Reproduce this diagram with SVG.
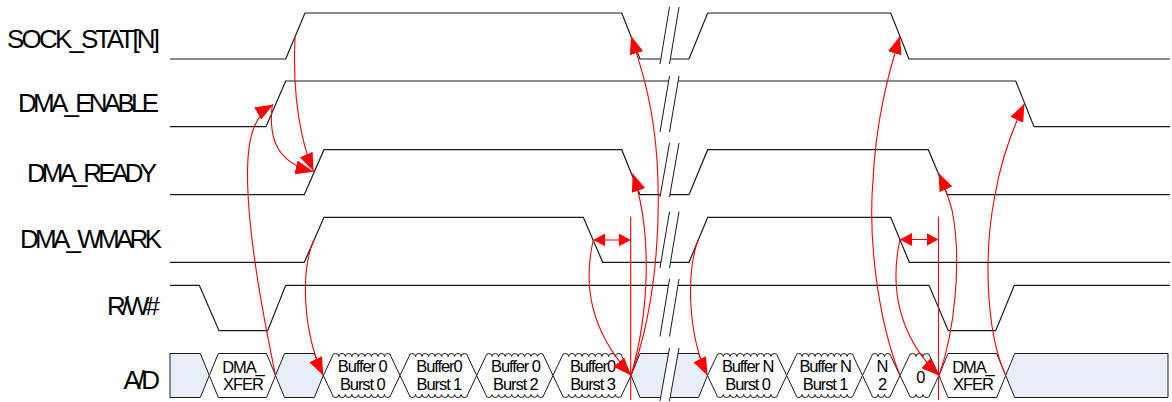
<svg xmlns="http://www.w3.org/2000/svg" width="1172" height="402" viewBox="0 0 1172 402">
<style>
.sig{fill:none;stroke:#1a1a1a;stroke-width:1.2}
.bf{fill:#fff;stroke:none}
.bl{stroke:#1a1a1a;stroke-width:1;fill:none}
.lbl{font-family:"Liberation Sans",Arial,sans-serif;font-size:26px;fill:#000}
.bus{stroke:#1a1a1a;stroke-width:1}
.sh{fill:#E8EEF7}
.pl{fill:#fff}
.bt{font-family:"Liberation Sans",Arial,sans-serif;font-size:16.5px;letter-spacing:-1.1px;text-anchor:middle;fill:#000}
.red{fill:none;stroke:#FF0000;stroke-width:1.1}
</style>
<defs>
<marker id="ah" markerUnits="userSpaceOnUse" markerWidth="19" markerHeight="14" refX="18" refY="7" orient="auto"><path d="M0,0 L18,7 L0,14 Z" fill="#FF0000"/></marker>
<marker id="as" markerUnits="userSpaceOnUse" markerWidth="13" markerHeight="13" refX="12" refY="6.5" orient="auto-start-reverse"><path d="M0,0 L12,6.5 L0,13 Z" fill="#FF0000"/></marker>
</defs>
<rect width="1172" height="402" fill="#fff"/>

<g id="sock_stat">
<text class="lbl" x="7" y="48" textLength="153" lengthAdjust="spacing">SOCK_STAT[N]</text>
<path class="sig" d="M170,59 H285.7 L305,13 H621.7 L640,59 H689 L707.7,13 H890.7 L909,59 H1170"/>
</g>
<g id="dma_enable">
<text class="lbl" x="18" y="112" textLength="141" lengthAdjust="spacing">DMA_ENABLE</text>
<path class="sig" d="M170,126.7 H266 L285.7,81 H1015.7 L1034,126.7 H1170"/>
</g>
<g id="dma_ready">
<text class="lbl" x="27" y="182" textLength="130" lengthAdjust="spacing">DMA_READY</text>
<path class="sig" d="M170,194.7 H304.3 L324,149.7 H621.7 L640,194.7 H689 L707.7,149.7 H928.3 L947.3,194.7 H1170"/>
</g>
<g id="dma_wmark">
<text class="lbl" x="20" y="247.5" textLength="142" lengthAdjust="spacing">DMA_WMARK</text>
<path class="sig" d="M170,262.3 H304.3 L324,217.3 H583.3 L602.7,262.3 H689 L707.7,217.3 H890.7 L909.3,262.3 H1170"/>
</g>
<g id="rw">
<text class="lbl" x="107" y="315" textLength="53" lengthAdjust="spacing">R/W#</text>
<path class="sig" d="M170,285.3 H199.3 L219,330.7 H267.7 L285.7,285.3 H929 L948.3,330.7 H995.7 L1014.3,285.3 H1170"/>
</g>
<g id="ad">
<text class="lbl" x="123.5" y="388.5" textLength="36.5" lengthAdjust="spacing">A/D</text>
<g class="bus">
<polygon class="sh" points="170,353.5 200.3,353.5 209.3,375.5 200.3,397.5 170,397.5"/>
<polygon class="pl" points="209.3,375.5 218.3,353.5 266.5,353.5 275.5,375.5 266.5,397.5 218.3,397.5"/>
<polygon class="sh" points="275.5,375.5 284.5,353.5 314.3,353.5 323.3,375.5 314.3,397.5 284.5,397.5"/>
<path class="pl" d="M323.3,375.5 L332.3,356.5 a3.26,3 0 0 1 6.522,0 a3.26,3 0 0 1 6.522,0 a3.26,3 0 0 1 6.522,0 a3.26,3 0 0 1 6.522,0 a3.26,3 0 0 1 6.522,0 a3.26,3 0 0 1 6.522,0 a3.26,3 0 0 1 6.522,0 a3.26,3 0 0 1 6.522,0 a3.26,3 0 0 1 6.522,0 L400,375.5 L391,394.5 a3.26,3 0 0 1 -6.522,0 a3.26,3 0 0 1 -6.522,0 a3.26,3 0 0 1 -6.522,0 a3.26,3 0 0 1 -6.522,0 a3.26,3 0 0 1 -6.522,0 a3.26,3 0 0 1 -6.522,0 a3.26,3 0 0 1 -6.522,0 a3.26,3 0 0 1 -6.522,0 a3.26,3 0 0 1 -6.522,0 Z"/>
<path class="pl" d="M400,375.5 L409,356.5 a3.26,3 0 0 1 6.522,0 a3.26,3 0 0 1 6.522,0 a3.26,3 0 0 1 6.522,0 a3.26,3 0 0 1 6.522,0 a3.26,3 0 0 1 6.522,0 a3.26,3 0 0 1 6.522,0 a3.26,3 0 0 1 6.522,0 a3.26,3 0 0 1 6.522,0 a3.26,3 0 0 1 6.522,0 L476.7,375.5 L467.7,394.5 a3.26,3 0 0 1 -6.522,0 a3.26,3 0 0 1 -6.522,0 a3.26,3 0 0 1 -6.522,0 a3.26,3 0 0 1 -6.522,0 a3.26,3 0 0 1 -6.522,0 a3.26,3 0 0 1 -6.522,0 a3.26,3 0 0 1 -6.522,0 a3.26,3 0 0 1 -6.522,0 a3.26,3 0 0 1 -6.522,0 Z"/>
<path class="pl" d="M476.7,375.5 L485.7,356.5 a3.24,3 0 0 1 6.478,0 a3.24,3 0 0 1 6.478,0 a3.24,3 0 0 1 6.478,0 a3.24,3 0 0 1 6.478,0 a3.24,3 0 0 1 6.478,0 a3.24,3 0 0 1 6.478,0 a3.24,3 0 0 1 6.478,0 a3.24,3 0 0 1 6.478,0 a3.24,3 0 0 1 6.478,0 L553,375.5 L544,394.5 a3.24,3 0 0 1 -6.478,0 a3.24,3 0 0 1 -6.478,0 a3.24,3 0 0 1 -6.478,0 a3.24,3 0 0 1 -6.478,0 a3.24,3 0 0 1 -6.478,0 a3.24,3 0 0 1 -6.478,0 a3.24,3 0 0 1 -6.478,0 a3.24,3 0 0 1 -6.478,0 a3.24,3 0 0 1 -6.478,0 Z"/>
<path class="pl" d="M553,375.5 L562,356.5 a3.33,3 0 0 1 6.667,0 a3.33,3 0 0 1 6.667,0 a3.33,3 0 0 1 6.667,0 a3.33,3 0 0 1 6.667,0 a3.33,3 0 0 1 6.667,0 a3.33,3 0 0 1 6.667,0 a3.33,3 0 0 1 6.667,0 a3.33,3 0 0 1 6.667,0 a3.33,3 0 0 1 6.667,0 L631,375.5 L622,394.5 a3.33,3 0 0 1 -6.667,0 a3.33,3 0 0 1 -6.667,0 a3.33,3 0 0 1 -6.667,0 a3.33,3 0 0 1 -6.667,0 a3.33,3 0 0 1 -6.667,0 a3.33,3 0 0 1 -6.667,0 a3.33,3 0 0 1 -6.667,0 a3.33,3 0 0 1 -6.667,0 a3.33,3 0 0 1 -6.667,0 Z"/>
<polygon class="sh" points="631,375.5 640,353.5 698.5,353.5 707.5,375.5 698.5,397.5 640,397.5"/>
<path class="pl" d="M707.5,375.5 L716.5,356.5 a3.4,3 0 0 1 6.8,0 a3.4,3 0 0 1 6.8,0 a3.4,3 0 0 1 6.8,0 a3.4,3 0 0 1 6.8,0 a3.4,3 0 0 1 6.8,0 a3.4,3 0 0 1 6.8,0 a3.4,3 0 0 1 6.8,0 a3.4,3 0 0 1 6.8,0 a3.4,3 0 0 1 6.8,0 L786.7,375.5 L777.7,394.5 a3.4,3 0 0 1 -6.8,0 a3.4,3 0 0 1 -6.8,0 a3.4,3 0 0 1 -6.8,0 a3.4,3 0 0 1 -6.8,0 a3.4,3 0 0 1 -6.8,0 a3.4,3 0 0 1 -6.8,0 a3.4,3 0 0 1 -6.8,0 a3.4,3 0 0 1 -6.8,0 a3.4,3 0 0 1 -6.8,0 Z"/>
<path class="pl" d="M786.7,375.5 L795.7,356.5 a3.21,3 0 0 1 6.422,0 a3.21,3 0 0 1 6.422,0 a3.21,3 0 0 1 6.422,0 a3.21,3 0 0 1 6.422,0 a3.21,3 0 0 1 6.422,0 a3.21,3 0 0 1 6.422,0 a3.21,3 0 0 1 6.422,0 a3.21,3 0 0 1 6.422,0 a3.21,3 0 0 1 6.422,0 L862.5,375.5 L853.5,394.5 a3.21,3 0 0 1 -6.422,0 a3.21,3 0 0 1 -6.422,0 a3.21,3 0 0 1 -6.422,0 a3.21,3 0 0 1 -6.422,0 a3.21,3 0 0 1 -6.422,0 a3.21,3 0 0 1 -6.422,0 a3.21,3 0 0 1 -6.422,0 a3.21,3 0 0 1 -6.422,0 a3.21,3 0 0 1 -6.422,0 Z"/>
<path class="pl" d="M862.5,375.5 L871.5,356.5 a3.25,3 0 0 1 6.5,0 a3.25,3 0 0 1 6.5,0 a3.25,3 0 0 1 6.5,0 L900,375.5 L891,394.5 a3.25,3 0 0 1 -6.5,0 a3.25,3 0 0 1 -6.5,0 a3.25,3 0 0 1 -6.5,0 Z"/>
<path class="pl" d="M900,375.5 L909,356.5 a3.5,3 0 0 1 7,0 a3.5,3 0 0 1 7,0 a3.5,3 0 0 1 7,0 L939,375.5 L930,394.5 a3.5,3 0 0 1 -7,0 a3.5,3 0 0 1 -7,0 a3.5,3 0 0 1 -7,0 Z"/>
<polygon class="pl" points="939,375.5 948,353.5 996.7,353.5 1005.7,375.5 996.7,397.5 948,397.5"/>
<polygon class="sh" points="1005.7,375.5 1014.7,353.5 1168,353.5 1168,397.5 1014.7,397.5"/>
</g>
<text class="bt" x="242.9" y="373">DMA_</text>
<text class="bt" x="242.9" y="390">XFER</text>
<text class="bt" x="362.2" y="371.5">Buffer 0</text>
<text class="bt" x="362.2" y="390">Burst 0</text>
<text class="bt" x="438.9" y="371.5">Buffer0</text>
<text class="bt" x="438.9" y="390">Burst 1</text>
<text class="bt" x="515.4" y="371.5">Buffer 0</text>
<text class="bt" x="515.4" y="390">Burst 2</text>
<text class="bt" x="592.5" y="371.5">Buffer0</text>
<text class="bt" x="592.5" y="390">Burst 3</text>
<text class="bt" x="747.6" y="371.5">Buffer N</text>
<text class="bt" x="747.6" y="390">Burst 0</text>
<text class="bt" x="825.1" y="371.5">Buffer N</text>
<text class="bt" x="825.1" y="390">Burst 1</text>
<text class="bt" x="882" y="371.5">N</text>
<text class="bt" x="882" y="390">2</text>
<text class="bt" x="920.3" y="382.5">0</text>
<text class="bt" x="972.9" y="373">DMA_</text>
<text class="bt" x="972.9" y="390">XFER</text>
</g>

<g id="breaks">
<polygon class="bf" points="660,64 669.5,7 679,7 669.5,64"/>
<polygon class="bf" points="660,132 669.5,76 679,76 669.5,132"/>
<polygon class="bf" points="660,197 669.5,143 679,143 669.5,197"/>
<polygon class="bf" points="660,268 669.5,211.5 679,211.5 669.5,268"/>
<polygon class="bf" points="660,336.5 669.5,279 679,279 669.5,336.5"/>
<polygon class="bf" points="660,401 669.5,348 679,348 669.5,401"/>
<path class="bl" d="M660,64 L669.5,7 M669.5,64 L679,7 M660,132 L669.5,76 M669.5,132 L679,76 M660,197 L669.5,143 M669.5,197 L679,143 M660,268 L669.5,211.5 M669.5,268 L679,211.5 M660,336.5 L669.5,279 M669.5,336.5 L679,279 M660,401 L669.5,348 M669.5,401 L679,348"/>
</g>

<g id="connectors">
<path class="red" d="M272.3,105 C268,140 278,163 313.5,171.7" marker-end="url(#ah)"/>
<path class="red" d="M295,37 C292,100 302,145 313.5,171" marker-end="url(#ah)"/>
<path class="red" d="M275.5,375.5 C262,310 247,230 247.5,170 C248,135 255,115 273.3,104.5" marker-end="url(#ah)"/>
<path class="red" d="M313.8,240 C301,270 302,330 323.3,375.5" marker-end="url(#ah)"/>
<path class="red" d="M593.3,240 H630.7" marker-start="url(#as)" marker-end="url(#as)"/>
<path class="red" d="M630.7,216.7 V400"/>
<path class="red" d="M593.3,240 C583,285 590,330 631,375.5" marker-end="url(#ah)"/>
<path class="red" d="M631,375.5 C650,310 652,230 632.7,173.5" marker-end="url(#ah)"/>
<path class="red" d="M631,375.5 C652,320 662,240 657,160 C653,100 640,65 631.2,36" marker-end="url(#ah)"/>
<path class="red" d="M698,240 C686,275 688,335 707.5,375.5" marker-end="url(#ah)"/>
<path class="red" d="M900,239.5 H938.5" marker-start="url(#as)" marker-end="url(#as)"/>
<path class="red" d="M938.5,216.7 V400"/>
<path class="red" d="M900,239.5 C890,285 897,335 939,375.5" marker-end="url(#ah)"/>
<path class="red" d="M900,375.5 C878,320 868,240 873,180 C876,120 888,75 900,36" marker-end="url(#ah)"/>
<path class="red" d="M939,375.5 C955,330 962,260 952,210 C948,195 944,185 938.5,173" marker-end="url(#ah)"/>
<path class="red" d="M1005.7,375.5 C985,330 984,250 995,195 C1001,160 1012,130 1024.5,103.5" marker-end="url(#ah)"/>
</g>
</svg>
